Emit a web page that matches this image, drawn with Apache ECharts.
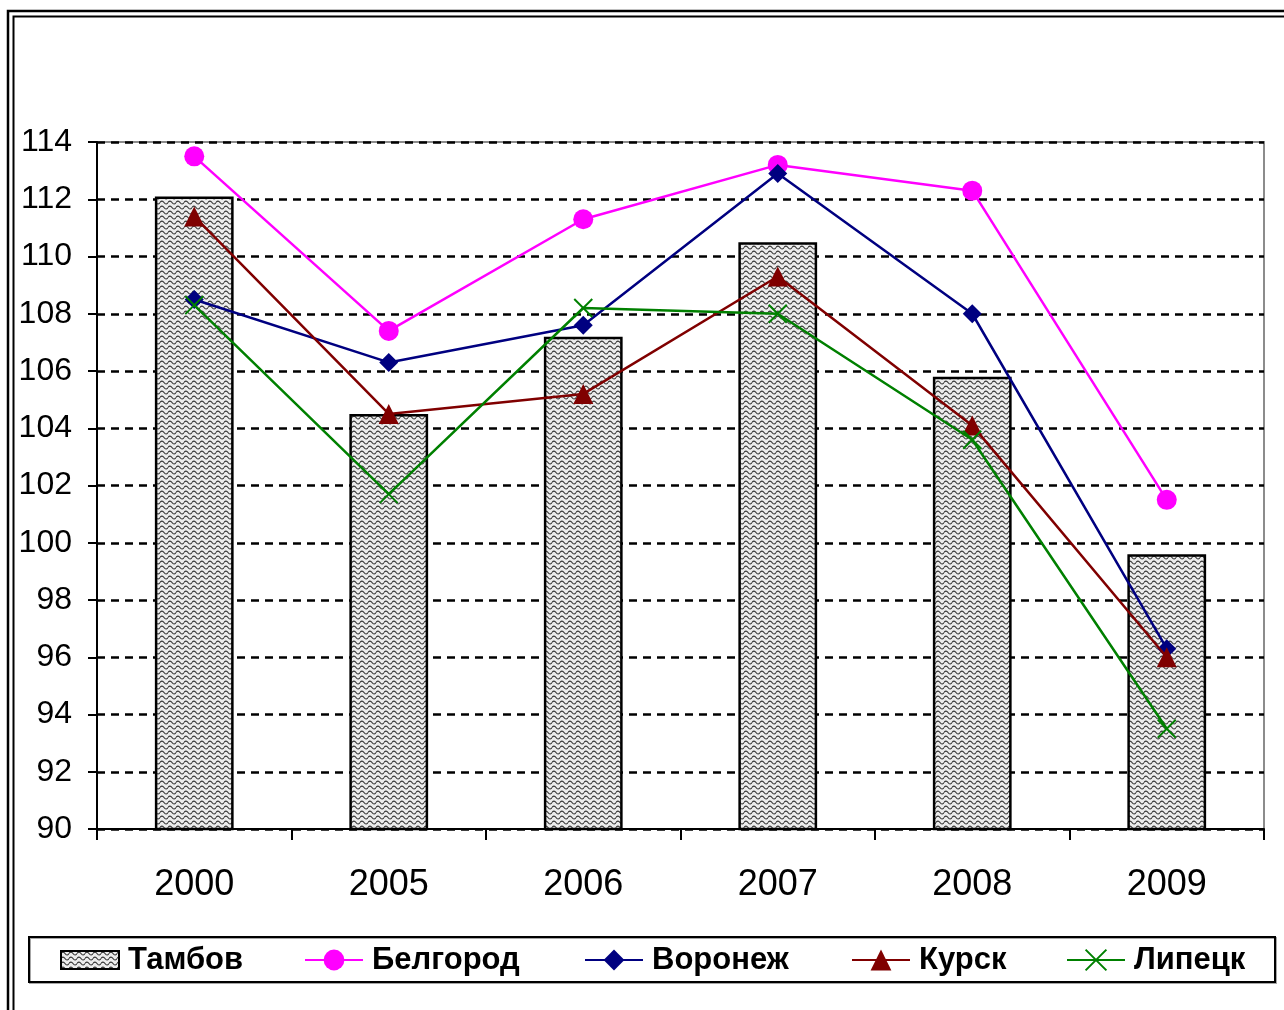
<!DOCTYPE html>
<html>
<head>
<meta charset="utf-8">
<script src="https://cdn.jsdelivr.net/npm/echarts@6/dist/echarts.min.js"></script>
<style>html,body{margin:0;padding:0;background:#fff}#c{width:1284px;height:1010px}</style>
</head>
<body>
<div id="c"></div>
<script>
var categories = ['2000', '2005', '2006', '2007', '2008', '2009'];
var tambov   = [112.1, 104.5, 107.2, 110.5, 105.8, 99.6];
var belgorod = [113.5, 107.4, 111.3, 113.2, 112.3, 101.5];
var voronezh = [108.5, 106.3, 107.6, 112.9, 108.0, 96.3];
var kursk    = [111.4, 104.5, 105.2, 109.3, 104.1, 96.0];
var lipetsk  = [108.3, 101.7, 108.2, 108.0, 103.6, 93.5];
var yTicks = {min: 90, max: 114, interval: 2};

// wavy fill pattern
var pc = document.createElement('canvas');
pc.width = 8; pc.height = 5;
var g = pc.getContext('2d');
g.fillStyle = '#ececec'; g.fillRect(0, 0, 8, 5);
g.strokeStyle = '#333333'; g.lineWidth = 1.1;
g.beginPath();
g.moveTo(0, 2.5);
g.bezierCurveTo(1.3, 0.6, 2.7, 0.6, 4, 2.5);
g.bezierCurveTo(5.3, 4.4, 6.7, 4.4, 8, 2.5);
g.stroke();
var pattern = {image: pc, repeat: 'repeat'};

var FONT = 'Liberation Sans, Arial, sans-serif';
var chart = echarts.init(document.getElementById('c'), null, {renderer: 'canvas'});

function leg(name, left, h, extra) {
  var d = {name: name};
  if (extra) for (var k in extra) d[k] = extra[k];
  return {
    data: [d], left: left, top: 960 - 17, orient: 'horizontal',
    itemWidth: 58, itemHeight: h, padding: 0,
    textStyle: {fontFamily: FONT, fontSize: 31, fontWeight: 'bold', color: '#000', lineHeight: 34, padding: [0, 0, 0, 4]}
  };
}

var sym = {
  'Белгород': 'circle',
  'Воронеж': 'diamond',
  'Курск': 'triangle',
  'Липецк': 'path://M0,0L10,10M10,0L0,10'
};

chart.setOption({
  animation: false,
  backgroundColor: '#fff',
  graphic: [
    {type: 'rect', shape: {x: 8, y: 11, width: 1320, height: 1100}, style: {fill: 'none', stroke: '#000', lineWidth: 2.5}, z: 100},
    {type: 'rect', shape: {x: 13.5, y: 16.5, width: 1310, height: 1090}, style: {fill: 'none', stroke: '#000', lineWidth: 2}, z: 100},
    {type: 'rect', shape: {x: 29, y: 937, width: 1246, height: 45}, style: {fill: '#fff', stroke: '#000', lineWidth: 2, shadowColor: 'rgba(0,0,0,0.35)', shadowOffsetX: 1, shadowOffsetY: 1}, z: 0}
  ],
  grid: {left: 97, right: 20, top: 142, bottom: 181, show: true, borderColor: '#8c8c8c', borderWidth: 2, backgroundColor: 'transparent'},
  legend: [
    leg('Тамбов', 60, 18, {icon: 'rect', itemStyle: {color: pattern, borderColor: '#000', borderWidth: 2}}),
    leg('Белгород', 304, 26),
    leg('Воронеж', 584, 26),
    leg('Курск', 851, 26),
    leg('Липецк', 1066, 26)
  ],
  xAxis: {
    type: 'category', data: categories, boundaryGap: true,
    axisLine: {lineStyle: {color: '#000', width: 2}},
    axisTick: {show: true, inside: false, length: 11, lineStyle: {color: '#000', width: 2}, alignWithLabel: false},
    axisLabel: {fontFamily: FONT, fontSize: 36, color: '#000', margin: 38},
    splitLine: {show: false}
  },
  yAxis: {
    type: 'value', min: yTicks.min, max: yTicks.max, interval: yTicks.interval,
    axisLine: {show: true, lineStyle: {color: '#000', width: 2}},
    axisTick: {show: true, length: 9, lineStyle: {color: '#000', width: 2}},
    axisLabel: {fontFamily: FONT, fontSize: 32, color: '#000', margin: 25},
    splitLine: {show: true, lineStyle: {color: '#000', width: 2.5, type: [8, 6]}}
  },
  series: [
    {name: 'Тамбов', type: 'bar', data: tambov, barWidth: '40.5%', z: 2,
     itemStyle: {color: pattern, borderColor: '#000', borderWidth: 2.5}},
    {name: 'Белгород', type: 'line', data: belgorod, symbol: sym['Белгород'], symbolSize: 20, z: 5,
     lineStyle: {color: '#ff00ff', width: 2.5}, itemStyle: {color: '#ff00ff'}},
    {name: 'Воронеж', type: 'line', data: voronezh, symbol: sym['Воронеж'], symbolSize: 19, z: 6,
     lineStyle: {color: '#000080', width: 2.5}, itemStyle: {color: '#000080'}},
    {name: 'Курск', type: 'line', data: kursk, symbol: sym['Курск'], symbolSize: 20, z: 7,
     lineStyle: {color: '#800000', width: 2.5}, itemStyle: {color: '#800000'}},
    {name: 'Липецк', type: 'line', data: lipetsk, symbol: sym['Липецк'], symbolSize: 18, z: 8,
     lineStyle: {color: '#008000', width: 2.5}, itemStyle: {color: '#008000', borderColor: '#008000', borderWidth: 2}}
  ]
});
</script>
</body>
</html>
